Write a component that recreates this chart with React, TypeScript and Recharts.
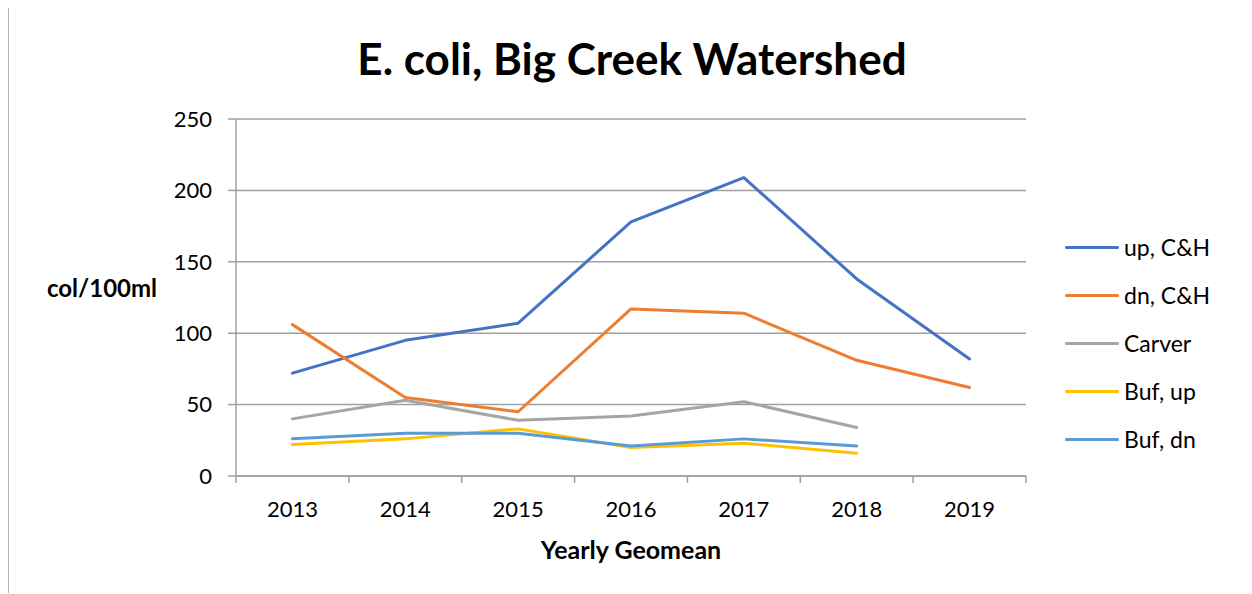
import React from 'react';
import { LineChart, Line, XAxis, YAxis, CartesianGrid, Label } from 'recharts';

const years = [2013, 2014, 2015, 2016, 2017, 2018, 2019];
const upCH = [72, 95, 107, 178, 209, 138, 82];
const dnCH = [106, 55, 45, 117, 114, 81, 62];
const carver = [40, 53, 39, 42, 52, 34, null];
const bufUp = [22, 26, 33, 20, 23, 16, null];
const bufDn = [26, 30, 30, 21, 26, 21, null];
const yTicks = [0, 50, 100, 150, 200, 250];
const xBoundaries = [2012.5, 2013.5, 2014.5, 2015.5, 2016.5, 2017.5, 2018.5, 2019.5];

const series = [
  { key: 'upCH', name: 'up, C&H', color: '#4472C4' },
  { key: 'dnCH', name: 'dn, C&H', color: '#ED7D31' },
  { key: 'carver', name: 'Carver', color: '#A5A5A5' },
  { key: 'bufUp', name: 'Buf, up', color: '#FFC000' },
  { key: 'bufDn', name: 'Buf, dn', color: '#5B9BD5' },
];

const data = years.map((year, i) => ({
  year,
  upCH: upCH[i],
  dnCH: dnCH[i],
  carver: carver[i],
  bufUp: bufUp[i],
  bufDn: bufDn[i],
}));

const FONT = 'Lato, "Open Sans", sans-serif';

const XTick = (props: any) => {
  const { x, y, payload } = props;
  const v = payload.value;
  if (Number.isInteger(v)) {
    return (
      <text x={x} y={y + 41} textAnchor="middle" fontFamily={FONT} fontSize={22} fill="#000">
        {v}
      </text>
    );
  }
  return <line x1={x} y1={y} x2={x} y2={y + 7} stroke="#a0a0a0" strokeWidth={1.5} />;
};

export default function App() {
  return (
    <div
      style={{
        position: 'relative',
        width: 1244,
        height: 586,
        borderLeft: '1.5px solid #b4b4b4',
        borderTop: '1.5px solid #b4b4b4',
        boxSizing: 'border-box',
        marginTop: -1,
      }}
    >
      <div
        style={{
          position: 'absolute',
          left: 0,
          width: 1246,
          top: 22,
          textAlign: 'center',
          fontFamily: FONT,
          fontWeight: 'bold',
          fontSize: 44,
          lineHeight: '56px',
          color: '#000',
        }}
      >
        E. coli, Big Creek Watershed
      </div>
      <LineChart
        width={1243}
        height={585}
        data={data}
        margin={{ top: 111, right: 226, bottom: 77, left: 177 }}
      >
        <CartesianGrid vertical={false} stroke="#a0a0a0" strokeWidth={1.5} />
        <XAxis
          dataKey="year"
          type="number"
          domain={[2012.5, 2019.5]}
          ticks={[...xBoundaries, ...years]}
          tick={<XTick />}
          tickLine={false}
          tickSize={0}
          tickMargin={0}
          axisLine={{ stroke: '#a0a0a0', strokeWidth: 1.5 }}
          height={40}
          interval={0}
          allowDecimals
        >
          <Label
            content={() => (
              <text x={622} y={551} textAnchor="middle" fontFamily={FONT} fontWeight="bold" fontSize={25} fill="#000">
                Yearly Geomean
              </text>
            )}
          />
        </XAxis>
        <YAxis
          domain={[0, 250]}
          ticks={yTicks}
          width={50}
          tickSize={8}
          tickMargin={16}
          interval={0}
          tickLine={{ stroke: '#a0a0a0', strokeWidth: 1.5 }}
          axisLine={{ stroke: '#a0a0a0', strokeWidth: 1.5 }}
          tick={{ fontFamily: FONT, fontSize: 22, fill: '#000' }}
        >
          <Label
            content={() => (
              <text x={93} y={283} textAnchor="middle" dominantBaseline="middle" fontFamily={FONT} fontWeight="bold" fontSize={24} fill="#000">
                col/100ml
              </text>
            )}
          />
        </YAxis>
        {series.map((s) => (
          <Line
            key={s.key}
            dataKey={s.key}
            name={s.name}
            stroke={s.color}
            strokeWidth={3}
            dot={false}
            activeDot={false}
            isAnimationActive={false}
            connectNulls={false}
            strokeLinecap="round"
            strokeLinejoin="round"
          />
        ))}
      </LineChart>
      <div
        style={{
          position: 'absolute',
          left: 1056,
          top: 215,
          fontFamily: FONT,
          fontSize: 23,
          color: '#000',
        }}
      >
        {series.map((s) => (
          <div key={s.key} style={{ display: 'flex', alignItems: 'center', height: 48 }}>
            <div style={{ width: 54, height: 3, background: s.color, borderRadius: 2, marginRight: 5 }} />
            <span>{s.name}</span>
          </div>
        ))}
      </div>
    </div>
  );
}
